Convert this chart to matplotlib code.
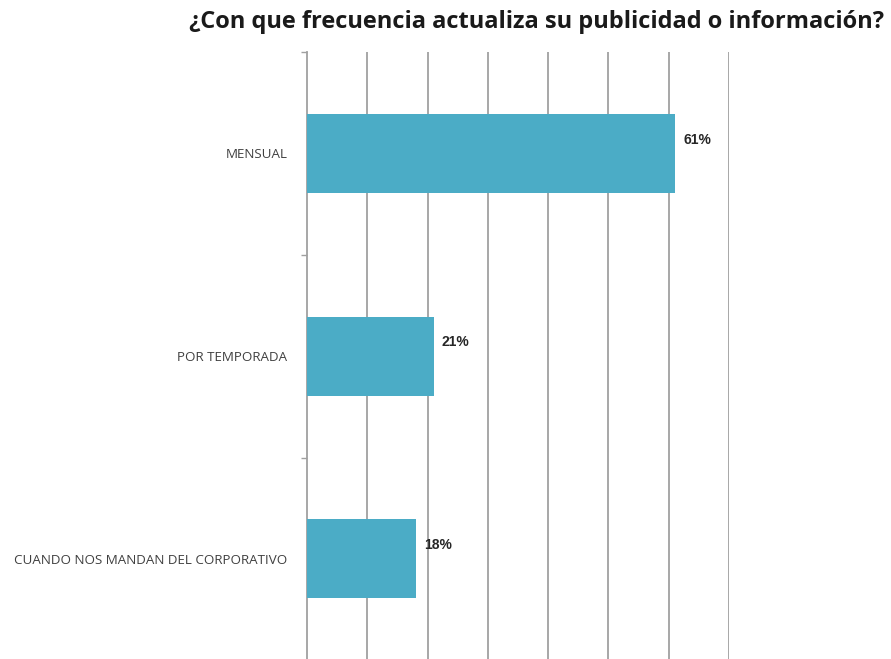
import numpy as np
import matplotlib.pyplot as plt

# respuestas y porcentajes
categorias = ['MENSUAL', 'POR TEMPORADA', 'CUANDO NOS MANDAN DEL CORPORATIVO']
valores = [0.61, 0.21, 0.18]
etiquetas = ['61%', '21%', '18%']

titulo = '¿Con que frecuencia actualiza su publicidad o información?'

plt.rcParams['font.family'] = ['Open Sans', 'DejaVu Sans']

fig = plt.figure(figsize=(8.91, 6.59), dpi=100)
ax = fig.add_axes([0.3446, -0.002, 0.4736, 0.923])

y = np.arange(len(categorias))
ax.barh(y, valores, height=0.39, color='#4BACC6', zorder=3)

for yi, v, txt in zip(y, valores, etiquetas):
    ax.annotate(txt, xy=(v, yi), xytext=(6, 10), textcoords='offset points',
                ha='left', va='center', fontsize=10, fontweight='bold',
                color='#262626', fontfamily='Liberation Sans')

ax.set_xlim(0, 0.7)
ax.set_ylim(len(categorias) - 0.5, -0.5)

ax.set_xticks(np.arange(0.1, 0.71, 0.1))
ax.grid(axis='x', color='#a0a0a0', linewidth=1.3, zorder=0)
ax.tick_params(axis='x', length=0, labelbottom=False)

ax.set_yticks(y)
ax.set_yticklabels(categorias, fontsize=9.6, color='#404040')
ax.tick_params(axis='y', which='major', length=0, pad=14)
ax.set_yticks(np.arange(-0.5, len(categorias)), minor=True)
ax.tick_params(axis='y', which='minor', length=4, color='#a0a0a0', width=1)

for s in ['top', 'right', 'bottom']:
    ax.spines[s].set_visible(False)
ax.spines['left'].set_color('#a0a0a0')
ax.spines['left'].set_linewidth(1.3)

fig.text(0.6025, 0.966, titulo, ha='center', va='center', fontsize=17,
         fontweight='bold', color='#1a1a1a')

fig.savefig('out.png', dpi=100)
